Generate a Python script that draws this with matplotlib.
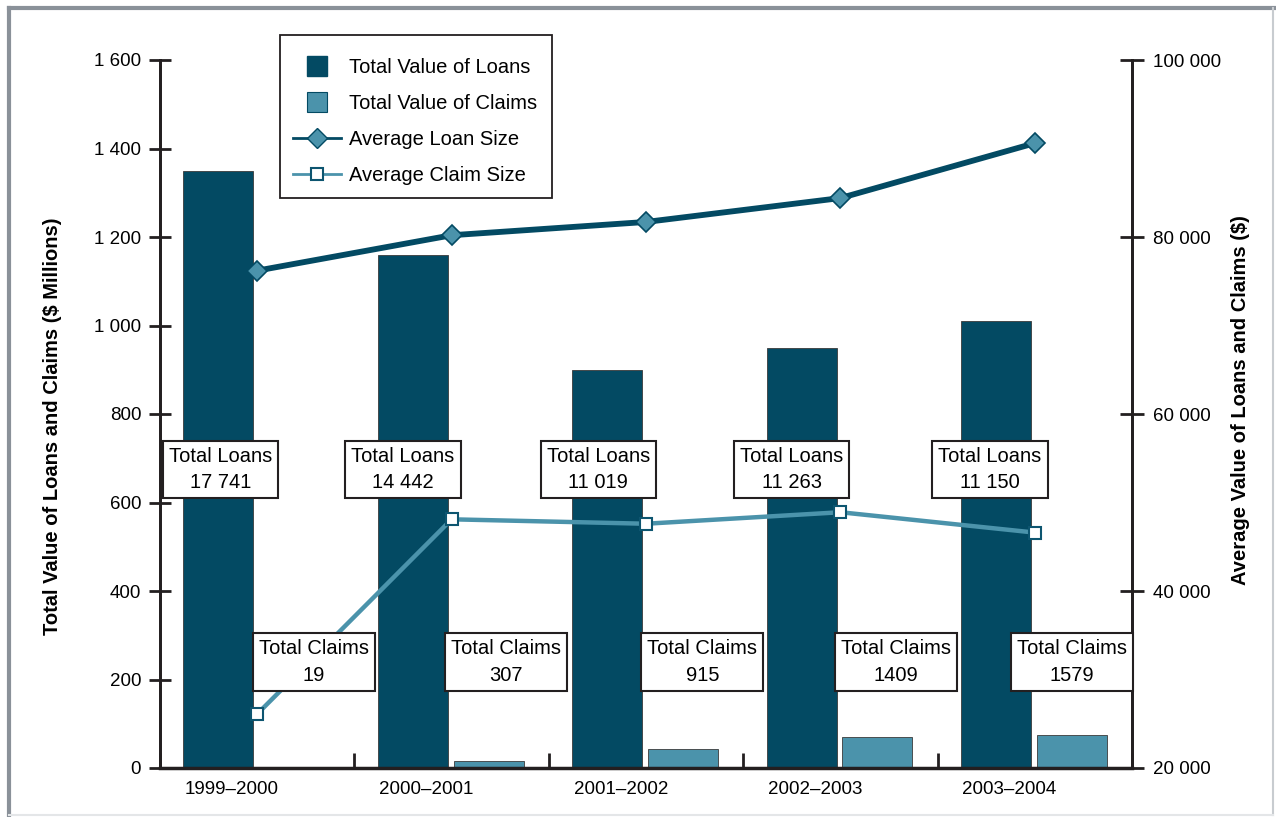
import matplotlib.pyplot as plt
from matplotlib.lines import Line2D
from matplotlib.patches import Rectangle
import numpy as np

plt.rcParams["font.family"] = ["Liberation Sans", "DejaVu Sans"]

# Data
years = ["1999–2000", "2000–2001", "2001–2002", "2002–2003", "2003–2004"]
loan_value = [1350, 1160, 900, 950, 1010]          # $ millions
claim_value = [0.5, 15, 44, 69, 74]                # $ millions
avg_loan = [76200, 80200, 81700, 84400, 90600]     # $
avg_claim = [26100, 48100, 47600, 48900, 46600]    # $
loan_count = ["17 741", "14 442", "11 019", "11 263", "11 150"]
claim_count = ["19", "307", "915", "1409", "1579"]

dark = "#034a63"
light = "#4b93ab"
ink = "#231f20"

x = np.arange(len(years))

fig = plt.figure(figsize=(12.76, 8.17), dpi=100)
ax = fig.add_axes([160 / 1276, 1 - 768 / 817, 972 / 1276, 708 / 817])
ax2 = ax.twinx()

# bars
ax.bar(x - 0.2, loan_value, width=0.36, color=dark,
       edgecolor="#3a3a3a", linewidth=0.6, zorder=2)
ax.bar(x + 0.19, claim_value, width=0.36, color=light,
       edgecolor="#3a3a3a", linewidth=0.6, zorder=2)

# average size lines
ax2.plot(x, avg_loan, color=dark, linewidth=4.2, marker="D",
         markersize=10.5, markerfacecolor=light, markeredgecolor=dark,
         markeredgewidth=1.2, zorder=3)
ax2.plot(x, avg_claim, color=light, linewidth=3.2, marker="s",
         markersize=9, markerfacecolor="white", markeredgecolor="#0d5570",
         markeredgewidth=1.5, zorder=3)

# count boxes
box = dict(boxstyle="square,pad=0.3", facecolor="white",
           edgecolor=ink, linewidth=1.5)
loan_dx = [-0.19, -0.25, -0.245, -0.25, -0.23]
claim_dx = [0.29, 0.28, 0.29, 0.285, 0.19]
for i in range(len(years)):
    ax2.text(x[i] + loan_dx[i], 675, f"Total Loans\n{loan_count[i]}",
             transform=ax.transData, ha="center", va="center",
             fontsize=14.5, linespacing=1.5, bbox=box, zorder=6)
    ax2.text(x[i] + claim_dx[i], 240, f"Total Claims\n{claim_count[i]}",
             transform=ax.transData, ha="center", va="center",
             fontsize=14.5, linespacing=1.5, bbox=box, zorder=6)

# axes
ax.set_xlim(-0.5, 4.5)
ax.set_ylim(0, 1600)
ax2.set_ylim(20000, 100000)
ax.set_yticks(range(0, 1601, 200))
ax.set_yticklabels([f"{v:,}".replace(",", " ") for v in range(0, 1601, 200)])
ax2.set_yticks(range(20000, 100001, 20000))
ax2.set_yticklabels([f"{v:,}".replace(",", " ") for v in range(20000, 100001, 20000)])

ax.set_xticks(x - 0.13)
ax.set_xticklabels(years)
ax.set_xticks(np.arange(-0.5, 5, 1), minor=True)
ax.tick_params(axis="x", which="major", length=0, pad=9, labelsize=13.5)
ax.tick_params(axis="x", which="minor", direction="in", length=11,
               width=2, color=ink)
ax.tick_params(axis="y", direction="inout", length=16, width=2,
               color=ink, labelsize=13.5, pad=5.5)
ax2.tick_params(axis="y", direction="inout", length=17, width=2,
                color=ink, labelsize=13.5, pad=6.5)

for a in (ax, ax2):
    a.spines["top"].set_visible(False)
    for s in ("left", "right", "bottom"):
        a.spines[s].set_color(ink)
        a.spines[s].set_linewidth(2)
ax.spines["bottom"].set_linewidth(2.5)

ax.set_ylabel("Total Value of Loans and Claims ($ Millions)",
              fontsize=14.5, fontweight="bold")
ax.yaxis.set_label_coords(-0.101, 0.483)
ax2.set_ylabel("Average Value of Loans and Claims ($)",
               fontsize=14.5, fontweight="bold")
ax2.yaxis.set_label_coords(1.102, 0.52)

# legend: white box drawn separately so the rows sit lower inside it
fig.add_artist(Rectangle((280 / 1276, 1 - 198 / 817), 272 / 1276, 163 / 817,
                         transform=fig.transFigure, facecolor="white",
                         edgecolor=ink, linewidth=1.3, zorder=4))
handles = [
    Line2D([], [], linestyle="none", marker="s", markersize=14,
           markerfacecolor=dark, markeredgecolor=dark),
    Line2D([], [], linestyle="none", marker="s", markersize=14,
           markerfacecolor=light, markeredgecolor=dark, markeredgewidth=0.8),
    Line2D([], [], color=dark, linewidth=2, marker="D", markersize=10,
           markerfacecolor=light, markeredgecolor=dark),
    Line2D([], [], color=light, linewidth=2, marker="s", markersize=9,
           markerfacecolor="white", markeredgecolor="#0d5570",
           markeredgewidth=1.5),
]
labels = ["Total Value of Loans", "Total Value of Claims",
          "Average Loan Size", "Average Claim Size"]
leg = fig.legend(handles, labels, loc="upper left",
                 bbox_to_anchor=(280 / 1276, 1 - 45 / 817),
                 fontsize=14.5, frameon=False,
                 handlelength=2.4, handletextpad=0.4, labelspacing=0.85,
                 borderpad=0.65, borderaxespad=0)
leg.set_zorder(5)

# outer frame
fig.add_artist(Line2D([9 / 1276, 9 / 1276], [0, 1 - 8 / 817],
                      color="#8a9199", linewidth=3))
fig.add_artist(Line2D([9 / 1276, 1], [1 - 8 / 817, 1 - 8 / 817],
                      color="#8a9199", linewidth=3))
fig.add_artist(Line2D([1273 / 1276, 1273 / 1276], [2 / 817, 1 - 8 / 817],
                      color="#c8ccd0", linewidth=1.5))
fig.add_artist(Line2D([9 / 1276, 1273 / 1276], [2 / 817, 2 / 817],
                      color="#e4e6e8", linewidth=1.5))

fig.savefig("out.png", dpi=100)
